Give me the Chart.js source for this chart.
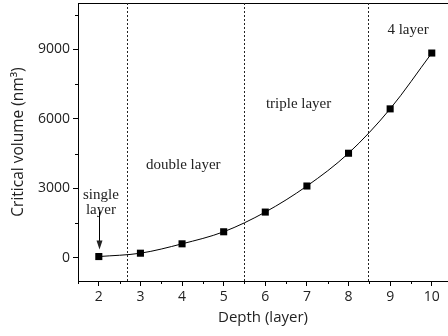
<!DOCTYPE html>
<html>
<head>
<meta charset="utf-8">
<script src="https://cdn.jsdelivr.net/npm/chart.js@4"></script>
<style>
  html, body { margin: 0; padding: 0; background: #fff; }
  #wrap { width: 448px; height: 336px; }
</style>
</head>
<body>
<div id="wrap"><canvas id="volumeChart"></canvas></div>
<script>
const depths = [2, 3, 4, 5, 6, 7, 8, 9, 10];
const criticalVolumes = [55, 200, 605, 1125, 1975, 3100, 4515, 6430, 8840];
const xTicks = [2, 3, 4, 5, 6, 7, 8, 9, 10];
const yTicks = [0, 3000, 6000, 9000];
const xMinorTicks = [1.5, 2.5, 3.5, 4.5, 5.5, 6.5, 7.5, 8.5, 9.5];
const yMinorTicks = [1500, 4500, 7500, 10500];
const boundaryDepths = [2.68, 5.5, 8.47]; // dotted region borders
const regionLabels = [
  { text: ["double layer"], x: 4.03, y: 3850 },
  { text: ["triple layer"], x: 6.8, y: 6480 },
  { text: ["4 layer"], x: 9.43, y: 9680 },
  { text: ["single", "layer"], x: 2.05, y: 2560 },
];

const serif = '"Liberation Serif", "Times New Roman", serif';
const sans = '"Open Sans", "DejaVu Sans", sans-serif';

// Vẽ đường chia vùng, nhãn, vạch phụ và mũi tên
const decorPlugin = {
  id: "decor",
  afterDraw(chart) {
    const { ctx, chartArea: a, scales } = chart;
    const x = scales.x, y = scales.y;
    ctx.save();
    ctx.strokeStyle = "#000";
    ctx.lineWidth = 1;

    // top frame line
    ctx.beginPath();
    ctx.moveTo(a.left, a.top + 0.5);
    ctx.lineTo(a.right, a.top + 0.5);
    ctx.stroke();

    // dotted boundaries
    ctx.setLineDash([2, 2]);
    ctx.strokeStyle = "#222";
    boundaryDepths.forEach((d) => {
      const px = Math.round(x.getPixelForValue(d)) + 0.5;
      ctx.beginPath();
      ctx.moveTo(px, a.top);
      ctx.lineTo(px, a.bottom);
      ctx.stroke();
    });
    ctx.setLineDash([]);
    ctx.strokeStyle = "#000";

    // minor ticks
    ctx.beginPath();
    xMinorTicks.forEach((v) => {
      const px = Math.round(x.getPixelForValue(v)) + 0.5;
      ctx.moveTo(px, a.bottom);
      ctx.lineTo(px, a.bottom + 3);
    });
    yMinorTicks.forEach((v) => {
      const py = Math.round(y.getPixelForValue(v)) + 0.5;
      ctx.moveTo(a.left, py);
      ctx.lineTo(a.left - 3, py);
    });
    ctx.stroke();

    // region labels
    ctx.fillStyle = "#222";
    ctx.font = "15px " + serif;
    ctx.textAlign = "center";
    ctx.textBaseline = "alphabetic";
    regionLabels.forEach((r) => {
      const px = x.getPixelForValue(r.x);
      const py = y.getPixelForValue(r.y);
      r.text.forEach((t, i) => ctx.fillText(t, px, py + i * 15));
    });

    // arrow to the single layer point
    const ax = Math.round(x.getPixelForValue(depths[0])) + 0.5;
    const y0 = y.getPixelForValue(2000);
    const y1 = y.getPixelForValue(criticalVolumes[0]) - 7;
    ctx.beginPath();
    ctx.moveTo(ax, y0);
    ctx.lineTo(ax, y1 - 6);
    ctx.stroke();
    ctx.beginPath();
    ctx.moveTo(ax - 3, y1 - 9);
    ctx.lineTo(ax + 3, y1 - 9);
    ctx.lineTo(ax, y1);
    ctx.closePath();
    ctx.fill();
    ctx.restore();
  },
};

const ctx = document.getElementById("volumeChart").getContext("2d");
new Chart(ctx, {
  type: "line",
  data: {
    datasets: [
      {
        data: depths.map((d, i) => ({ x: d, y: criticalVolumes[i] })),
        borderColor: "#000",
        borderWidth: 1,
        backgroundColor: "#000",
        pointStyle: "rect",
        pointRadius: 5,
        pointBorderWidth: 0,
        cubicInterpolationMode: "monotone",
        fill: false,
      },
    ],
  },
  options: {
    responsive: true,
    maintainAspectRatio: false,
    animation: false,
    layout: { autoPadding: false, padding: { top: 3, right: 0, left: 0, bottom: 0 } },
    plugins: { legend: { display: false }, tooltip: { enabled: false } },
    scales: {
      x: {
        type: "linear",
        min: 1.5,
        max: 10.39,
        afterFit: (s) => {
          s.height = 55;
          s.paddingLeft = 0;
          s.paddingRight = 0;
        },
        afterBuildTicks: (s) => { s.ticks = xTicks.map((v) => ({ value: v })); },
        border: { display: true, color: "#000", width: 1 },
        grid: { drawOnChartArea: false, drawTicks: true, tickLength: 5, tickColor: "#000" },
        ticks: {
          color: "#222",
          padding: 3,
          font: { family: sans, size: 14 },
          maxRotation: 0,
          callback: (v) => String(v),
        },
        title: {
          display: true,
          text: "Depth (layer)",
          color: "#222",
          font: { family: sans, size: 15 },
          padding: { top: 0, bottom: 9 },
        },
      },
      y: {
        min: -1000,
        max: 11000,
        afterFit: (s) => {
          s.width = 78;
          s.paddingTop = 0;
          s.paddingBottom = 0;
        },
        afterBuildTicks: (s) => { s.ticks = yTicks.map((v) => ({ value: v })); },
        border: { display: true, color: "#000", width: 1 },
        grid: { drawOnChartArea: false, drawTicks: true, tickLength: 5, tickColor: "#000" },
        ticks: {
          color: "#222",
          padding: 3,
          font: { family: sans, size: 14 },
          callback: (v) => String(v),
        },
        title: {
          display: true,
          text: "Critical volume (nm³)",
          color: "#222",
          font: { family: sans, size: 15.5 },
          padding: { top: 9, bottom: 0 },
        },
      },
    },
  },
  plugins: [decorPlugin],
});
</script>
</body>
</html>
